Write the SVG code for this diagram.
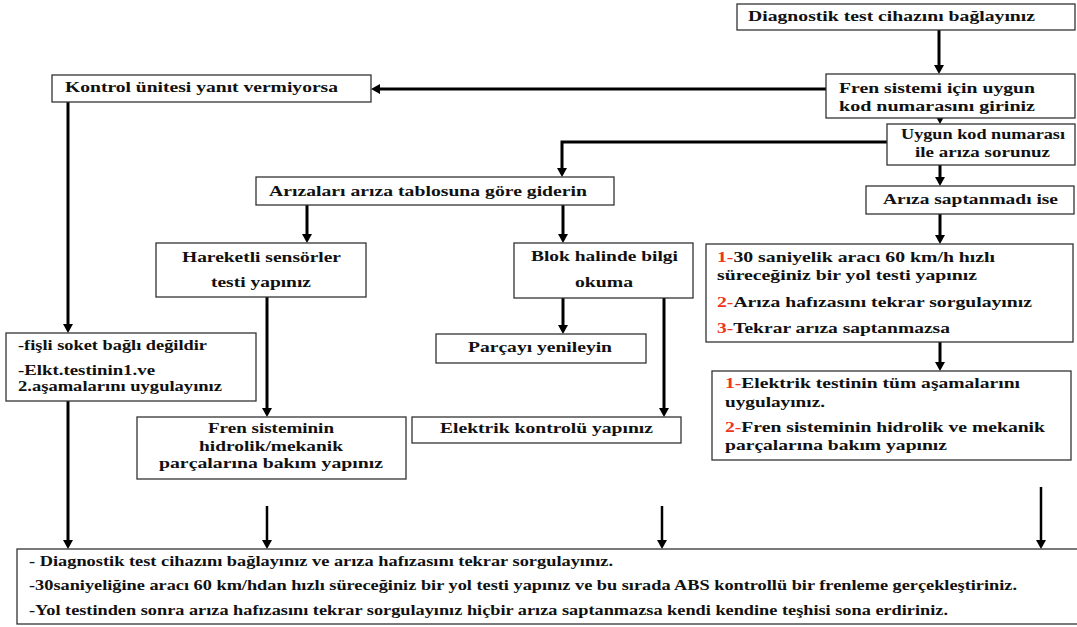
<svg xmlns="http://www.w3.org/2000/svg" width="1077" height="627" viewBox="0 0 1077 627">
<style>
.box{fill:#fff;stroke:#333;stroke-width:1.3}
.t{font-family:"Liberation Serif","Times New Roman",serif;font-weight:bold;font-size:14px;fill:#111}
.r{fill:#f0351e}
.c{fill:none;stroke:#000;stroke-width:3}
.c2{fill:none;stroke:#000;stroke-width:2.5}
</style>
<defs>
<marker id="ah" viewBox="0 0 9 10" markerWidth="9" markerHeight="10" refX="4" refY="5" orient="auto" markerUnits="userSpaceOnUse">
<path d="M0,0 L9,5 L0,10 z" fill="#000"/>
</marker>
</defs>
<rect width="1077" height="627" fill="#fff"/>
<g id="connectors">
<path class="c" d="M939,30 V69" marker-end="url(#ah)"/>
<path class="c" d="M826,89 H376" marker-end="url(#ah)"/>
<path class="c" d="M68,102 V328" marker-end="url(#ah)"/>
<path class="c" d="M887,142 H562 V172" marker-end="url(#ah)"/>
<path class="c" d="M940,116 V119" marker-end="url(#ah)"/>
<path class="c" d="M940,165 V181" marker-end="url(#ah)"/>
<path class="c" d="M940,214 V239" marker-end="url(#ah)"/>
<path class="c" d="M940,342 V366" marker-end="url(#ah)"/>
<path class="c" d="M307,205 V238" marker-end="url(#ah)"/>
<path class="c" d="M563,205 V238" marker-end="url(#ah)"/>
<path class="c" d="M563,298 V329" marker-end="url(#ah)"/>
<path class="c" d="M664,298 V412" marker-end="url(#ah)"/>
<path class="c" d="M267,297 V412" marker-end="url(#ah)"/>
<path class="c" d="M68,401 V544" marker-end="url(#ah)"/>
<path class="c2" d="M267,506 V544" marker-end="url(#ah)"/>
<path class="c2" d="M662,506 V544" marker-end="url(#ah)"/>
<path class="c2" d="M1041,487 V544" marker-end="url(#ah)"/>
</g>
<g id="n1">
<rect class="box" x="737" y="4" width="338" height="26"/>
<text class="t" x="748" y="21" textLength="287" lengthAdjust="spacingAndGlyphs">Diagnostik test cihazını bağlayınız</text>
</g>
<g id="n2">
<rect class="box" x="826" y="74" width="249" height="44"/>
<text class="t" x="839" y="93" textLength="196" lengthAdjust="spacingAndGlyphs">Fren sistemi için uygun</text>
<text class="t" x="839" y="111" textLength="196" lengthAdjust="spacingAndGlyphs">kod numarasını giriniz</text>
</g>
<g id="n3">
<rect class="box" x="887" y="124" width="188" height="41"/>
<text class="t" x="901" y="139" textLength="164" lengthAdjust="spacingAndGlyphs">Uygun kod numarası</text>
<text class="t" x="915" y="157" textLength="135" lengthAdjust="spacingAndGlyphs">ile arıza sorunuz</text>
</g>
<g id="n4">
<rect class="box" x="52" y="75" width="319" height="27"/>
<text class="t" x="65" y="92" textLength="273" lengthAdjust="spacingAndGlyphs">Kontrol ünitesi yanıt vermiyorsa</text>
</g>
<g id="n5">
<rect class="box" x="256" y="177" width="358" height="28"/>
<text class="t" x="269" y="196" textLength="318" lengthAdjust="spacingAndGlyphs">Arızaları arıza tablosuna göre giderin</text>
</g>
<g id="n6">
<rect class="box" x="156" y="243" width="210" height="54"/>
<text class="t" x="182" y="262" textLength="159" lengthAdjust="spacingAndGlyphs">Hareketli sensörler</text>
<text class="t" x="211" y="287" textLength="100" lengthAdjust="spacingAndGlyphs">testi yapınız</text>
</g>
<g id="n7">
<rect class="box" x="514" y="243" width="179" height="55"/>
<text class="t" x="531" y="261" textLength="147" lengthAdjust="spacingAndGlyphs">Blok halinde bilgi</text>
<text class="t" x="575" y="287" textLength="58" lengthAdjust="spacingAndGlyphs">okuma</text>
</g>
<g id="n8">
<rect class="box" x="866" y="186" width="208" height="28"/>
<text class="t" x="883" y="204" textLength="175" lengthAdjust="spacingAndGlyphs">Arıza saptanmadı ise</text>
</g>
<g id="n9">
<rect class="box" x="706" y="244" width="367" height="98"/>
<text class="t" x="717" y="262" textLength="278" lengthAdjust="spacingAndGlyphs"><tspan class="r">1-</tspan>30 saniyelik aracı 60 km/h hızlı</text>
<text class="t" x="717" y="280" textLength="260" lengthAdjust="spacingAndGlyphs">süreceğiniz bir yol testi yapınız</text>
<text class="t" x="717" y="307" textLength="315" lengthAdjust="spacingAndGlyphs"><tspan class="r">2-</tspan>Arıza hafızasını tekrar sorgulayınız</text>
<text class="t" x="717" y="333" textLength="233" lengthAdjust="spacingAndGlyphs"><tspan class="r">3-</tspan>Tekrar arıza saptanmazsa</text>
</g>
<g id="n10">
<rect class="box" x="712" y="371" width="359" height="89"/>
<text class="t" x="725" y="388" textLength="295" lengthAdjust="spacingAndGlyphs"><tspan class="r">1-</tspan>Elektrik testinin tüm aşamalarını</text>
<text class="t" x="725" y="407" textLength="100" lengthAdjust="spacingAndGlyphs">uygulayınız.</text>
<text class="t" x="725" y="432" textLength="320" lengthAdjust="spacingAndGlyphs"><tspan class="r">2-</tspan>Fren sisteminin hidrolik ve mekanik</text>
<text class="t" x="725" y="450" textLength="222" lengthAdjust="spacingAndGlyphs">parçalarına bakım yapınız</text>
</g>
<g id="n11">
<rect class="box" x="6" y="333" width="250" height="68"/>
<text class="t" x="18" y="350" textLength="189" lengthAdjust="spacingAndGlyphs">-fişli soket bağlı değildir</text>
<text class="t" x="18" y="375" textLength="137" lengthAdjust="spacingAndGlyphs">-Elkt.testinin1.ve</text>
<text class="t" x="18" y="391" textLength="204" lengthAdjust="spacingAndGlyphs">2.aşamalarını uygulayınız</text>
</g>
<g id="n12">
<rect class="box" x="137" y="417" width="269" height="62"/>
<text class="t" x="208" y="433" textLength="126" lengthAdjust="spacingAndGlyphs">Fren sisteminin</text>
<text class="t" x="199" y="451" textLength="144" lengthAdjust="spacingAndGlyphs">hidrolik/mekanik</text>
<text class="t" x="159" y="468" textLength="224" lengthAdjust="spacingAndGlyphs">parçalarına bakım yapınız</text>
</g>
<g id="n13">
<rect class="box" x="436" y="334" width="210" height="29"/>
<text class="t" x="468" y="352" textLength="144" lengthAdjust="spacingAndGlyphs">Parçayı yenileyin</text>
</g>
<g id="n14">
<rect class="box" x="412" y="417" width="269" height="26"/>
<text class="t" x="440" y="433" textLength="213" lengthAdjust="spacingAndGlyphs">Elektrik kontrolü yapınız</text>
</g>
<g id="n15">
<rect class="box" x="17" y="549" width="1070" height="75"/>
<text class="t" x="29" y="566" textLength="584" lengthAdjust="spacingAndGlyphs">- Diagnostik test cihazını bağlayınız ve arıza hafızasını tekrar sorgulayınız.</text>
<text class="t" x="29" y="590" textLength="988" lengthAdjust="spacingAndGlyphs">-30saniyeliğine aracı 60 km/hdan hızlı süreceğiniz bir yol testi yapınız ve bu sırada ABS kontrollü bir frenleme gerçekleştiriniz.</text>
<text class="t" x="29" y="615" textLength="919" lengthAdjust="spacingAndGlyphs">-Yol testinden sonra arıza hafızasını tekrar sorgulayınız hiçbir arıza saptanmazsa kendi kendine teşhisi sona erdiriniz.</text>
</g>
</svg>
